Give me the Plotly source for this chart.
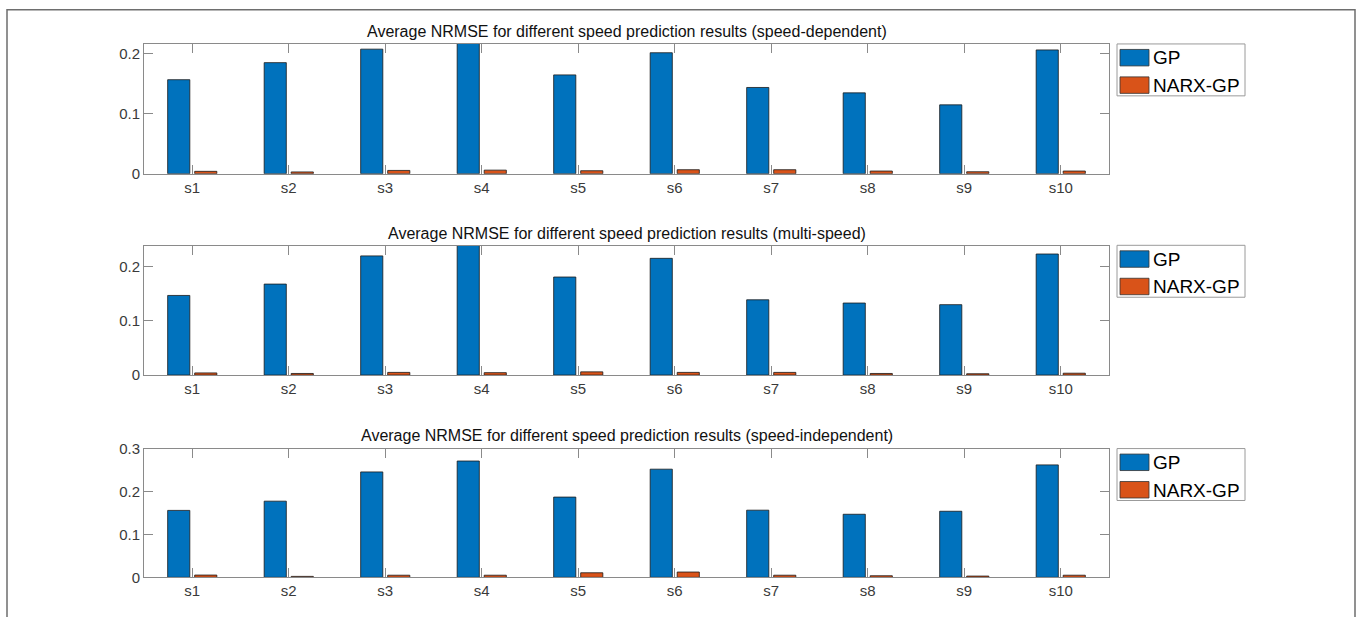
import plotly.graph_objects as go
from plotly.subplots import make_subplots

W, H = 1358, 625

categories = ["s1", "s2", "s3", "s4", "s5", "s6", "s7", "s8", "s9", "s10"]
series_names = ["GP", "NARX-GP"]
titles = [
    "Average NRMSE for different speed prediction results (speed-dependent)",
    "Average NRMSE for different speed prediction results (multi-speed)",
    "Average NRMSE for different speed prediction results (speed-independent)",
]

gp_dependent = [0.157, 0.1855, 0.208, 0.218, 0.165, 0.202, 0.144, 0.135, 0.115, 0.2067]
narx_dependent = [0.004, 0.003, 0.0055, 0.006, 0.005, 0.0067, 0.0067, 0.0045, 0.0033, 0.0045]

gp_multi = [0.147, 0.168, 0.220, 0.240, 0.181, 0.2155, 0.139, 0.133, 0.130, 0.2235]
narx_multi = [0.004, 0.003, 0.005, 0.0045, 0.006, 0.005, 0.005, 0.003, 0.0025, 0.0035]

gp_independent = [0.156, 0.1775, 0.2456, 0.271, 0.187, 0.252, 0.1565, 0.147, 0.154, 0.262]
narx_independent = [0.0054, 0.0023, 0.005, 0.005, 0.0107, 0.0124, 0.005, 0.0038, 0.003, 0.005]

y_max = [0.2167, 0.239, 0.3]

panels = [
    (gp_dependent, narx_dependent),
    (gp_multi, narx_multi),
    (gp_independent, narx_independent),
]

colors = ["#0072BD", "#D95319"]

# target pixel layout (as seen in the photographed page)
ax_left, ax_right = 144, 1109
boxes = [(43, 173), (245, 374.7), (448.3, 577.3)]
title_y = [31, 233, 435]
legend_tops = [43, 244.7, 448.3]

# the photographed page maps figure y to 8 + 0.9744 * y; compensate for it
Y_OFF, Y_SCALE = 8.0, 0.9744


def px(x):
    return x / W


def py(y):
    yf = (y - Y_OFF) / Y_SCALE
    yf = min(max(yf, 0.0), H)
    return 1 - yf / H


fig = make_subplots(rows=3, cols=1)

for i, (gp, narx) in enumerate(panels):
    for name, vals, col in zip(series_names, (gp, narx), colors):
        fig.add_trace(
            go.Bar(
                x=categories, y=vals, name=name,
                marker=dict(color=col, line=dict(color="#1a1a1a", width=0.8)),
                showlegend=False,
            ),
            row=i + 1, col=1,
        )

axis_col = "#8a8a8a"
font_family = "Liberation Sans, Arial, Helvetica, sans-serif"
tick_font = dict(family=font_family, size=15, color="#3a3a3a")

for i in range(3):
    top, bot = boxes[i]
    xa = "xaxis" if i == 0 else f"xaxis{i+1}"
    ya = "yaxis" if i == 0 else f"yaxis{i+1}"
    fig.layout[xa].update(
        domain=[px(ax_left), px(ax_right)],
        range=[-0.5, 9.5],
        showline=True, linecolor=axis_col, linewidth=1, mirror="ticks",
        ticks="inside", ticklen=9, tickcolor=axis_col, tickwidth=1,
        showgrid=False, tickfont=tick_font, fixedrange=True,
    )
    fig.layout[ya].update(
        domain=[py(bot), py(top)],
        range=[0, y_max[i]],
        dtick=0.1, tick0=0,
        showline=True, linecolor=axis_col, linewidth=1, mirror="ticks",
        ticks="inside", ticklen=9, tickcolor=axis_col, tickwidth=1,
        showgrid=False, zeroline=False, tickfont=tick_font, fixedrange=True,
    )

annotations = []
shapes = []

for i in range(3):
    annotations.append(dict(
        text=titles[i], x=px((ax_left + ax_right) / 2), y=py(title_y[i]),
        xref="paper", yref="paper", xanchor="center", yanchor="middle",
        showarrow=False,
        font=dict(family=font_family, size=16, color="#111111"),
    ))
    # legend box
    lt = legend_tops[i]
    shapes.append(dict(
        type="rect", xref="paper", yref="paper",
        x0=px(1117), x1=px(1245), y0=py(lt + 52), y1=py(lt),
        line=dict(color="#9a9a9a", width=1), fillcolor="white",
    ))
    for j, (name, col) in enumerate(zip(series_names, colors)):
        sy0 = lt + 5.5 + j * 27.5
        shapes.append(dict(
            type="rect", xref="paper", yref="paper",
            x0=px(1120), x1=px(1149), y0=py(sy0 + 16.5), y1=py(sy0),
            line=dict(color="#333333", width=0.8), fillcolor=col,
        ))
        annotations.append(dict(
            text=name, x=px(1151), y=py(sy0 + 8.5),
            xref="paper", yref="paper", xanchor="left", yanchor="middle",
            showarrow=False,
            font=dict(family=font_family, size=19, color="#000000"),
        ))

# outer frame (open at the bottom)
fl, fr, ft = px(7), px(1355), 1 - 0.8 / H
shapes.append(dict(
    type="path", xref="paper", yref="paper",
    path=f"M {fl} 0 L {fl} {ft} L {fr} {ft} L {fr} 0",
    line=dict(color="#6e6e6e", width=1.5),
))

fig.update_layout(
    width=W, height=H,
    margin=dict(l=0, r=0, t=0, b=0),
    paper_bgcolor="white", plot_bgcolor="white",
    barmode="group", bargap=0.44, bargroupgap=0.18,
    showlegend=False,
    annotations=annotations, shapes=shapes,
)

fig.write_html(
    "out.html",
    config={"displayModeBar": False},
    post_script="document.body.style.margin='0';document.body.style.overflow='hidden';",
)
